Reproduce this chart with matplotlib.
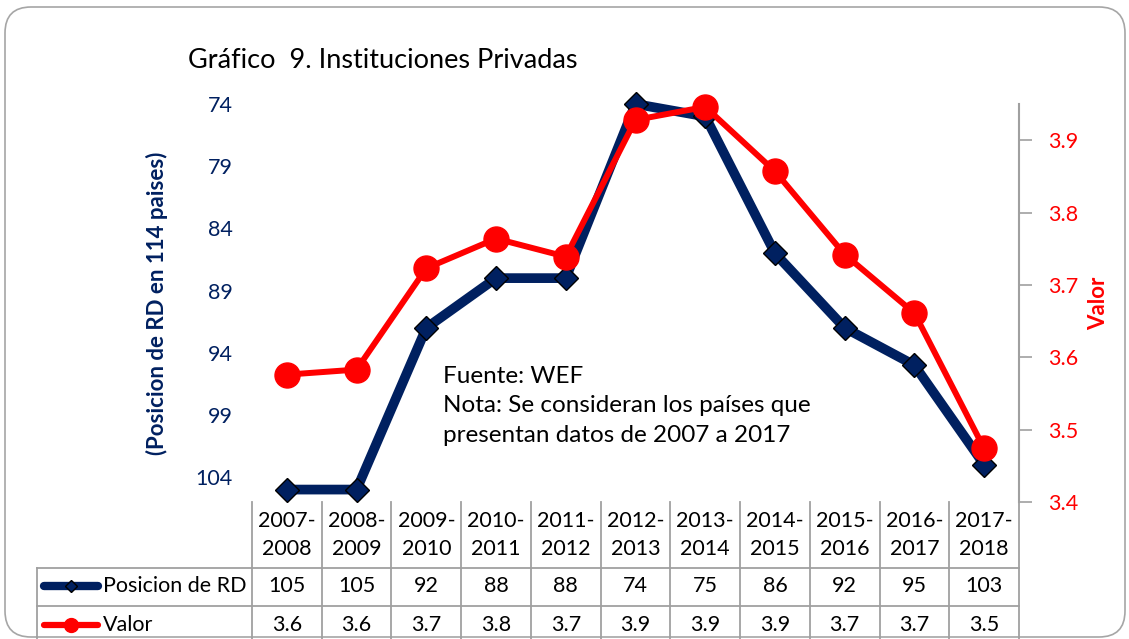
import matplotlib.pyplot as plt
from matplotlib.patches import FancyBboxPatch
from matplotlib.transforms import IdentityTransform, blended_transform_factory
from matplotlib.lines import Line2D

plt.rcParams['font.family'] = ['Lato', 'DejaVu Sans']

periods = ['2007-\n2008', '2008-\n2009', '2009-\n2010', '2010-\n2011', '2011-\n2012', '2012-\n2013',
           '2013-\n2014', '2014-\n2015', '2015-\n2016', '2016-\n2017', '2017-\n2018']
posicion = [105, 105, 92, 88, 88, 74, 75, 86, 92, 95, 103]
valor = [3.576, 3.583, 3.723, 3.764, 3.739, 3.928, 3.946, 3.857, 3.742, 3.661, 3.474]
valor_tabla = ['3.6', '3.6', '3.7', '3.8', '3.7', '3.9', '3.9', '3.9', '3.7', '3.7', '3.5']
left_ticks = [74, 79, 84, 89, 94, 99, 104]
right_ticks = [3.4, 3.5, 3.6, 3.7, 3.8, 3.9]

NAVY = '#002060'
RED = '#FF0000'
W, H = 1129, 639

fig = plt.figure(figsize=(W / 100, H / 100), dpi=100)

# rounded frame round the whole chart
fig.patches.append(FancyBboxPatch((5, 2), 1120, 630, boxstyle='round,pad=0,rounding_size=26',
                                  transform=IdentityTransform(), facecolor='none',
                                  edgecolor='#A6A6A6', linewidth=1.2))

ax = fig.add_axes([252 / W, (H - 502) / H, (1019 - 252) / W, (502 - 104) / H])
ax2 = ax.twinx()

x = list(range(len(periods)))
ax.plot(x, posicion, color=NAVY, lw=7, marker='D', ms=12.5, mfc=NAVY, mec='black', mew=1, clip_on=False)
ax2.plot(x, valor, color=RED, lw=4.3, marker='o', ms=18, clip_on=False)
# red series drawn above the navy one
ax.set_zorder(ax2.get_zorder() - 1)
ax2.patch.set_visible(False)

ax.set_xlim(-0.5, len(periods) - 0.5)
ax.set_ylim(106, 74)
ax.set_yticks(left_ticks)
ax.tick_params(axis='y', length=0, pad=14, labelsize=15.5, labelcolor=NAVY)
ax.set_xticks([])
for s in ax.spines.values():
    s.set_visible(False)
ax.set_ylabel('(Posicion de RD en 114 paises)', color=NAVY, fontsize=16, fontweight='bold', labelpad=20)

ax2.set_ylim(3.4, 3.95)
ax2.set_yticks(right_ticks)
ax2.set_yticklabels([f'{t:.1f}' for t in right_ticks])
ax2.tick_params(axis='y', length=9, width=1.2, color='#A0A0A0', pad=12, labelsize=15.5, labelcolor=RED)
for k in ['top', 'left', 'bottom']:
    ax2.spines[k].set_visible(False)
ax2.spines['right'].set_color('#A0A0A0')
ax2.spines['right'].set_linewidth(1.5)
ax2.set_ylabel('Valor', color=RED, fontsize=16, fontweight='bold', labelpad=7)

fig.text(188 / W, 1 - 60 / H, 'Gráfico  9. Instituciones Privadas', fontsize=19.5, va='center', ha='left')
fig.text(443 / W, 1 - 406 / H, 'Fuente: WEF\nNota: Se consideran los países que\npresentan datos de 2007 a 2017',
         fontsize=17.5, va='center', ha='left', linespacing=1.5)

# data table under the plot
tr = blended_transform_factory(ax.transData, fig.transFigure)
def fy(px):
    return 1 - px / H

grid = dict(color='#A0A0A0', lw=1.3, clip_on=False)
y_top, y_r1, y_r2, y_bot = 502, 568, 606, 645
left_px = 37
for i in range(len(periods) + 1):
    fig.add_artist(Line2D([i - 0.5, i - 0.5], [fy(y_top), fy(y_bot)], transform=tr, **grid))
for yy in [y_r1, y_r2]:
    fig.add_artist(Line2D([left_px / W, 1019 / W], [fy(yy), fy(yy)], transform=fig.transFigure, **grid))
fig.add_artist(Line2D([left_px / W, left_px / W], [fy(y_r1), fy(y_bot)], transform=fig.transFigure, **grid))

for i, p in enumerate(periods):
    fig.text(i, fy(535), p, transform=tr, ha='center', va='center', fontsize=15.5, linespacing=1.45)
    fig.text(i, fy(586), str(posicion[i]), transform=tr, ha='center', va='center', fontsize=15.5)
    fig.text(i, fy(625), valor_tabla[i], transform=tr, ha='center', va='center', fontsize=15.5)

# legend keys inside the table
fig.add_artist(Line2D([44 / W, 98 / W], [fy(586), fy(586)], transform=fig.transFigure, color=NAVY, lw=6,
                      solid_capstyle='round'))
fig.add_artist(Line2D([71 / W], [fy(586)], transform=fig.transFigure, marker='D', ms=6.5, mfc=NAVY, mec='black',
                      mew=1, lw=0))
fig.add_artist(Line2D([44 / W, 98 / W], [fy(625), fy(625)], transform=fig.transFigure, color=RED, lw=4.5,
                      solid_capstyle='round'))
fig.add_artist(Line2D([71 / W], [fy(625)], transform=fig.transFigure, marker='o', ms=10, color=RED, lw=0))
fig.text(103 / W, fy(586), 'Posicion de RD', ha='left', va='center', fontsize=15.5)
fig.text(103 / W, fy(625), 'Valor', ha='left', va='center', fontsize=15.5)

fig.savefig('out.png', dpi=100)
